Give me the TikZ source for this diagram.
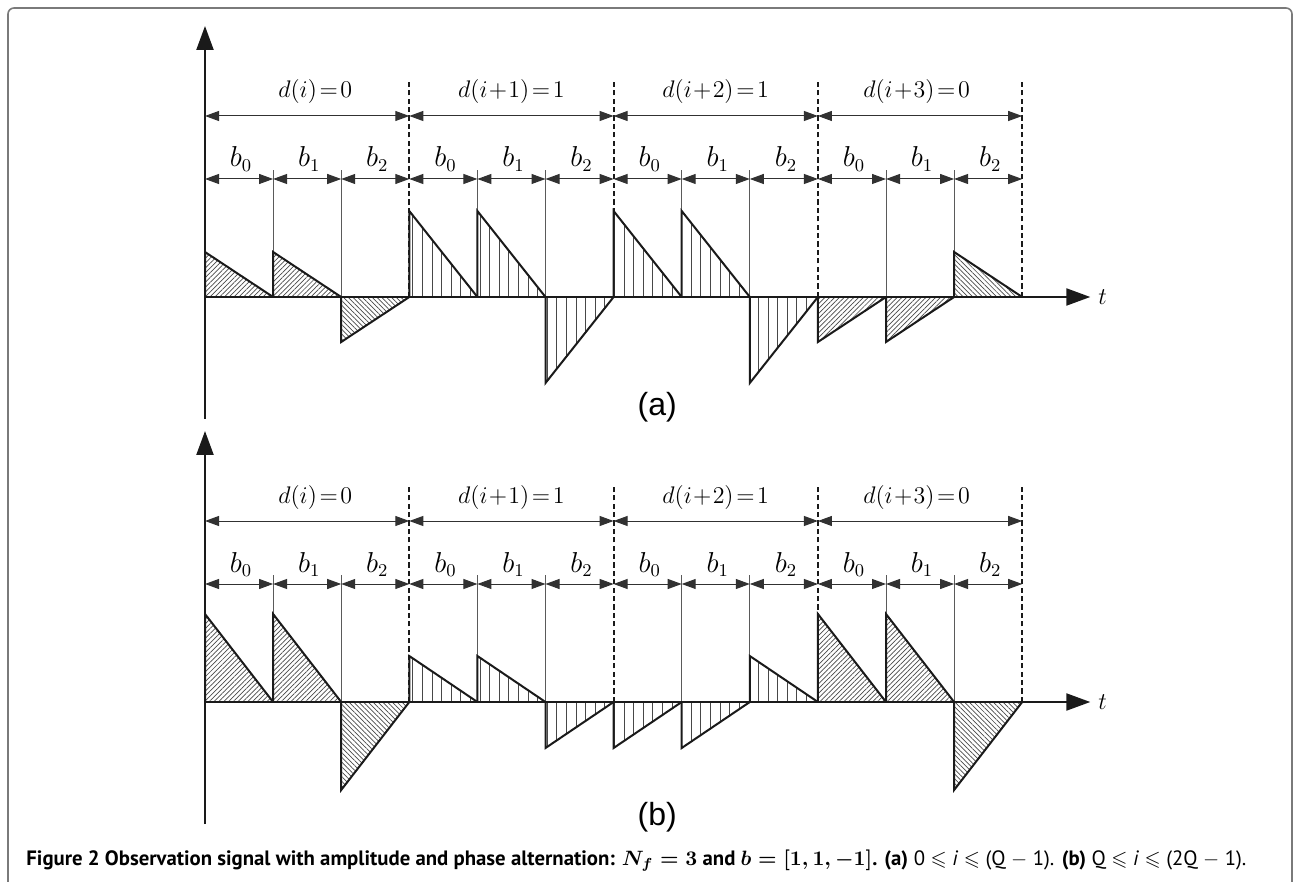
\documentclass[tikz,border=0pt]{standalone}
\usepackage{amssymb}
\usepackage{graphicx}
\usepackage{fontspec}
\newfontfamily\capfont{PT Sans}
\newfontfamily\panelfont{Liberation Sans}
\usetikzlibrary{arrows.meta,patterns.meta}

\definecolor{ink}{HTML}{1a1a1a}
\definecolor{framegray}{HTML}{7a7a7a}
\definecolor{divider}{HTML}{5a5a5a}

\begin{document}
\begin{tikzpicture}[
  x=34.05pt, y=0.5pt,
  line join=miter,
  every node/.style={inner sep=0pt},
  axis/.style={draw=ink, line width=1.1pt, -{Triangle[length=12pt,width=8.5pt]}},
  pulse/.style={draw=ink, line width=1pt},
  bitline/.style={draw=ink, line width=1pt, dash pattern=on 2.6pt off 1.6pt},
  chipline/.style={draw=divider, line width=0.5pt},
  span/.style={draw=ink!90, line width=0.5pt, {Triangle[length=7pt,width=5pt]}-{Triangle[length=7pt,width=5pt]}},
  diag/.style={pattern={Lines[angle=45,distance=1.7pt,line width=0.35pt]}, pattern color=ink!80},
  anti/.style={pattern={Lines[angle=-45,distance=1.7pt,line width=0.35pt]}, pattern color=ink!80},
  vert/.style={pattern={Lines[angle=90,distance=4.8pt,line width=0.35pt]}, pattern color=ink!80},
  lab/.style={font=\fontsize{12.5}{14}\selectfont, anchor=base},
  chiplab/.style={font=\fontsize{13.5}{15}\selectfont, anchor=base},
]
\useasboundingbox (-102.5pt,-292.5pt) rectangle (544.5pt,148.5pt);
\draw[draw=framegray, line width=0.8pt, rounded corners=3pt] (-98.5pt,-292.5pt) -- (-98.5pt,144.5pt) -- (543.5pt,144.5pt) -- (543.5pt,-292.5pt);
\foreach \pn/\dy/\ly/\pulses in {
  a/0/-110/{0/45/diag,1/45/diag,2/-45/anti,3/86/vert,4/86/vert,5/-86/vert,6/86/vert,7/86/vert,8/-86/vert,9/-45/diag,10/-45/diag,11/45/anti},
  b/-405/-115/{0/88/diag,1/88/diag,2/-88/anti,3/46/vert,4/46/vert,5/-46/vert,6/-46/vert,7/-46/vert,8/46/vert,9/88/diag,10/88/diag,11/-88/anti}}{
\begin{scope}[shift={(0,\dy)}]
  \foreach \k in {1,2,4,5,7,8,10,11} \draw[chipline] (\k,0) -- (\k,127);
  \foreach \k in {3,6,9,12} \draw[bitline] (\k,0) -- (\k,218);
  \foreach \k/\amp/\hatch in \pulses {
    \fill[\hatch] (\k,0) -- (\k,\amp) -- (\k+1,0) -- cycle;
    \draw[pulse] (\k,0) -- (\k,\amp) -- (\k+1,0);
  }
  \draw[axis] (0,0) -- (13,0) node[right=3.5pt, font=\fontsize{13}{15}\selectfont] (t\pn) {$t$};
  \draw[axis] (0,-122) -- (0,271);
  \foreach \j/\x/\txt in {0/1.62/{$d\big(i\big)\!=\!0$}, 1/4.5/{$d\big(i\!+\!1\big)\!=\!1$}, 2/7.5/{$d\big(i\!+\!2\big)\!=\!1$}, 3/10.45/{$d\big(i\!+\!3\big)\!=\!0$}} {
    \draw[span] (3*\j,181) -- (3*\j+3,181);
    \node[lab] (d\pn\j) at (\x,199) {\txt};
  }
  \foreach \k/\c in {0/0,1/1,2/2,3/0,4/1,5/2,6/0,7/1,8/2,9/0,10/1,11/2} {
    \draw[span] (\k,118) -- (\k+1,118);
    \node[chiplab] (b\pn\k) at (\k+0.53,130) {$b_{\c}$};
  }
  \node[font=\panelfont\fontsize{16}{18}\selectfont] (label\pn) at (6.64,\ly) {(\pn)};
\end{scope}}
\node[anchor=base west, font=\capfont] (caption) at (-89.5pt,-284pt) {\resizebox{610pt}{!}{{\bfseries Figure 2 Observation signal with amplitude and phase alternation: {\boldmath$N_f = 3$} and {\boldmath$b = [1, 1, -1]$}. (a)} 0 $\leqslant$ \textit{i} $\leqslant$ (Q $-$ 1). {\bfseries (b)} Q $\leqslant$ \textit{i} $\leqslant$ (2Q $-$ 1).}};
\end{tikzpicture}
\end{document}
